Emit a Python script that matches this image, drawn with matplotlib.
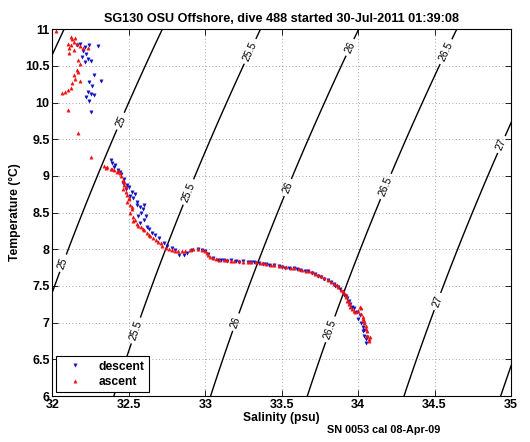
import numpy as np
import matplotlib
matplotlib.use("Agg")
import matplotlib.pyplot as plt

plt.rcParams['font.family'] = ['Liberation Sans', 'DejaVu Sans']

# ---------------- data ----------------
title = "SG130 OSU Offshore, dive 488 started 30-Jul-2011 01:39:08"
xlabel = "Salinity (psu)"
ylabel = "Temperature (\u00b0C)"
footnote = "SN 0053 cal 08-Apr-09"

sigma_levels = [24.5, 25.0, 25.5, 26.0, 26.5, 27.0, 27.5]

x_ticks = [32, 32.5, 33, 33.5, 34, 34.5, 35]
y_ticks = [6, 6.5, 7, 7.5, 8, 8.5, 9, 9.5, 10, 10.5, 11]

descent_S = [32.18, 32.16, 32.21, 32.24, 32.30, 32.20, 32.22, 32.19, 32.23, 32.21,
             32.25, 32.27, 32.32, 32.24, 32.26, 32.23, 32.25, 32.27, 32.22, 32.24,
             32.25, 32.38, 32.39, 32.40, 32.43, 32.45, 32.47, 32.46, 32.49, 32.48,
             32.52, 32.51, 32.53, 32.55, 32.55, 32.57, 32.60, 32.58, 32.56, 32.60,
             32.57, 32.62, 32.65, 32.70, 32.73, 32.78, 32.83, 32.86, 32.95, 33.00,
             33.05, 33.10, 33.14, 33.20, 33.25, 33.30, 33.35, 33.40, 33.45, 33.50,
             33.55, 33.60, 33.65, 33.70, 33.74, 33.78, 33.82, 33.85, 33.88, 33.90,
             33.92, 33.94, 33.95, 33.97, 33.99, 34.00, 34.02, 34.03, 34.03, 34.04,
             34.05, 34.05,
             32.41, 32.44, 32.50, 32.54, 32.59, 32.61, 32.63, 32.67, 32.75, 32.80,
             32.88, 32.91, 32.98, 33.02, 33.08, 33.12, 33.17, 33.22, 33.28, 33.32,
             33.38, 33.42, 33.48, 33.52, 33.58, 33.62, 33.67, 33.72, 33.76, 33.80,
             33.84, 33.87, 33.91, 33.93, 33.96, 34.01, 34.04, 34.06]
descent_T = [10.80, 10.78, 10.76, 10.78, 10.77, 10.70, 10.66, 10.62, 10.60, 10.55,
             10.56, 10.38, 10.30, 10.28, 10.22, 10.15, 10.12, 10.10, 10.08, 10.02,
             9.87, 9.22, 9.18, 9.12, 9.08, 9.02, 8.96, 8.90, 8.88, 8.82,
             8.78, 8.72, 8.70, 8.65, 8.60, 8.57, 8.60, 8.50, 8.45, 8.40,
             8.36, 8.30, 8.22, 8.16, 8.08, 8.02, 7.92, 7.92, 8.00, 7.98,
             7.88, 7.85, 7.84, 7.84, 7.84, 7.82, 7.81, 7.80, 7.78, 7.76,
             7.74, 7.73, 7.71, 7.68, 7.64, 7.60, 7.55, 7.50, 7.46, 7.42,
             7.36, 7.30, 7.25, 7.20, 7.14, 7.05, 7.00, 6.94, 6.88, 6.82,
             6.78, 6.72,
             9.15, 9.05, 8.85, 8.75, 8.55, 8.45, 8.28, 8.19, 8.05, 7.99,
             7.95, 7.99, 7.99, 7.93, 7.86, 7.86, 7.85, 7.83, 7.83, 7.82,
             7.80, 7.79, 7.77, 7.75, 7.74, 7.72, 7.70, 7.66, 7.62, 7.58,
             7.53, 7.48, 7.38, 7.33, 7.22, 7.10, 6.90, 6.80]

ascent_S = [32.02, 32.12, 32.13, 32.15, 32.14, 32.10, 32.12, 32.16, 32.18, 32.20,
            32.23, 32.11, 32.14, 32.11, 32.17, 32.18, 32.16, 32.17, 32.14, 32.15,
            32.18, 32.13, 32.12, 32.10, 32.08, 32.06, 32.10, 32.17, 32.25, 32.34,
            32.36, 32.38, 32.40, 32.42, 32.44, 32.45, 32.46, 32.47, 32.46, 32.48,
            32.49, 32.50, 32.49, 32.51, 32.52, 32.51, 32.53, 32.53, 32.55, 32.58,
            32.60, 32.63, 32.66, 32.69, 32.72, 32.76, 32.80, 32.85, 32.90, 32.95,
            32.98, 33.01, 33.03, 33.07, 33.12, 33.17, 33.22, 33.28, 33.33, 33.38,
            33.43, 33.48, 33.53, 33.58, 33.63, 33.68, 33.72, 33.76, 33.80, 33.84,
            33.87, 33.89, 33.91, 33.92, 33.93, 33.94, 33.95, 33.96, 33.98, 34.00,
            34.01, 34.02, 34.02, 34.03, 34.04, 34.05, 34.06, 34.06, 34.07, 34.07,
            32.35, 32.39, 32.43, 32.47, 32.48, 32.50, 32.52, 32.54, 32.56, 32.59,
            32.62, 32.64, 32.68, 32.71, 32.74, 32.78, 32.82, 32.87, 32.92, 33.00,
            33.02, 33.05, 33.09, 33.14, 33.19, 33.25, 33.30, 33.36, 33.40, 33.45,
            33.50, 33.56, 33.61, 33.66, 33.70, 33.74, 33.78, 33.82, 33.86, 33.90,
            33.92, 33.94, 33.97, 34.03, 34.04, 34.05, 34.08]
ascent_T = [10.97, 10.90, 10.86, 10.88, 10.83, 10.80, 10.78, 10.80, 10.77, 10.75,
            10.74, 10.74, 10.72, 10.68, 10.58, 10.52, 10.45, 10.42, 10.38, 10.32,
            10.30, 10.26, 10.20, 10.17, 10.15, 10.13, 9.90, 9.58, 9.26, 9.14,
            9.12, 9.10, 9.08, 9.06, 9.04, 9.00, 8.95, 8.88, 8.82, 8.78,
            8.74, 8.70, 8.65, 8.60, 8.55, 8.50, 8.44, 8.38, 8.34, 8.30,
            8.26, 8.20, 8.15, 8.10, 8.05, 8.00, 7.98, 7.98, 7.99, 8.00,
            7.99, 7.95, 7.90, 7.87, 7.85, 7.84, 7.84, 7.83, 7.82, 7.81,
            7.79, 7.77, 7.76, 7.74, 7.72, 7.70, 7.67, 7.63, 7.58, 7.53,
            7.49, 7.45, 7.40, 7.35, 7.30, 7.26, 7.22, 7.18, 7.15, 7.16,
            7.22, 7.20, 7.12, 7.05, 7.00, 6.95, 6.88, 6.82, 6.78, 6.75,
            9.11, 9.09, 9.07, 8.92, 8.85, 8.68, 8.57, 8.40, 8.32, 8.28,
            8.22, 8.18, 8.12, 8.08, 8.02, 7.99, 7.97, 7.98, 8.00, 7.97,
            7.92, 7.88, 7.86, 7.85, 7.84, 7.83, 7.83, 7.81, 7.80, 7.79,
            7.77, 7.75, 7.73, 7.71, 7.69, 7.65, 7.61, 7.56, 7.51, 7.43,
            7.38, 7.28, 7.16, 7.08, 7.02, 6.92, 6.80]

# contour label positions (S, T)
label_pos = [(32.43, 9.76), (32.07, 7.81),
             (33.28, 10.71), (32.89, 8.78), (32.55, 6.89),
             (33.96, 10.74), (33.53, 8.85), (33.21, 7.0),
             (34.6, 10.67), (34.19, 8.85), (33.83, 6.9),
             (34.97, 9.4), (34.49, 7.31)]


def sigma0(S, T):
    """UNESCO 1980 sea-water density anomaly at surface pressure."""
    rw = (999.842594 + 6.793952e-2 * T - 9.095290e-3 * T**2 + 1.001685e-4 * T**3
          - 1.120083e-6 * T**4 + 6.536332e-9 * T**5)
    A = 8.24493e-1 - 4.0899e-3 * T + 7.6438e-5 * T**2 - 8.2467e-7 * T**3 + 5.3875e-9 * T**4
    B = -5.72466e-3 + 1.0227e-4 * T - 1.6546e-6 * T**2
    C = 4.8314e-4
    return rw + A * S + B * S**1.5 + C * S**2 - 1000.0


fig = plt.figure(figsize=(5.30, 4.42), dpi=100)
ax = fig.add_axes([0.099, 0.104, 0.865, 0.830])

Sg, Tg = np.meshgrid(np.linspace(31.9, 35.1, 200), np.linspace(5.9, 11.1, 200))
cs = ax.contour(Sg, Tg, sigma0(Sg, Tg), levels=sigma_levels, colors='black',
                linewidths=1.0, zorder=2)
lbls = ax.clabel(cs, fmt='%g', fontsize=7.5,
                 inline=True, inline_spacing=3, manual=label_pos)

ax.plot(descent_S, descent_T, linestyle='none', marker='v', markersize=2.4,
        color='#1010c0', markeredgewidth=0.3, label='descent', zorder=3)
ax.plot(ascent_S, ascent_T, linestyle='none', marker='^', markersize=2.4,
        color='#ee1010', markeredgewidth=0.3, label='ascent', zorder=4)

ax.set_xlim(32, 35)
ax.set_ylim(6, 11)
ax.set_xticks(x_ticks)
ax.set_yticks(y_ticks)
ax.set_xticklabels([f"{v:g}" for v in x_ticks], fontweight='bold', fontsize=9)
ax.set_yticklabels([f"{v:g}" for v in y_ticks], fontweight='bold', fontsize=9)
ax.tick_params(direction='in', top=True, right=True, length=4, width=0.6, pad=2)
ax.grid(True, linestyle=(0, (1, 3)), color='#888888', linewidth=0.6)
for sp in ax.spines.values():
    sp.set_linewidth(0.8)

ax.set_xlabel(xlabel, fontweight='bold', fontsize=8.7, labelpad=1)
ax.set_ylabel(ylabel, fontweight='bold', fontsize=8.7, labelpad=3)
ax.set_title(title, fontweight='bold', fontsize=9.1, pad=5)

leg = ax.legend(loc='lower left', fancybox=False, framealpha=1, edgecolor='black',
                prop={'weight': 'bold', 'size': 8.7}, handlelength=2.4,
                borderaxespad=0.3, markerscale=1.0, handletextpad=0.8,
                labelspacing=0.3, borderpad=0.35)
leg.get_frame().set_linewidth(0.8)

fig.text(0.617, 0.015, footnote, fontsize=7.8, fontweight='bold', ha='left', va='bottom')

fig.savefig("out.png", dpi=100)
